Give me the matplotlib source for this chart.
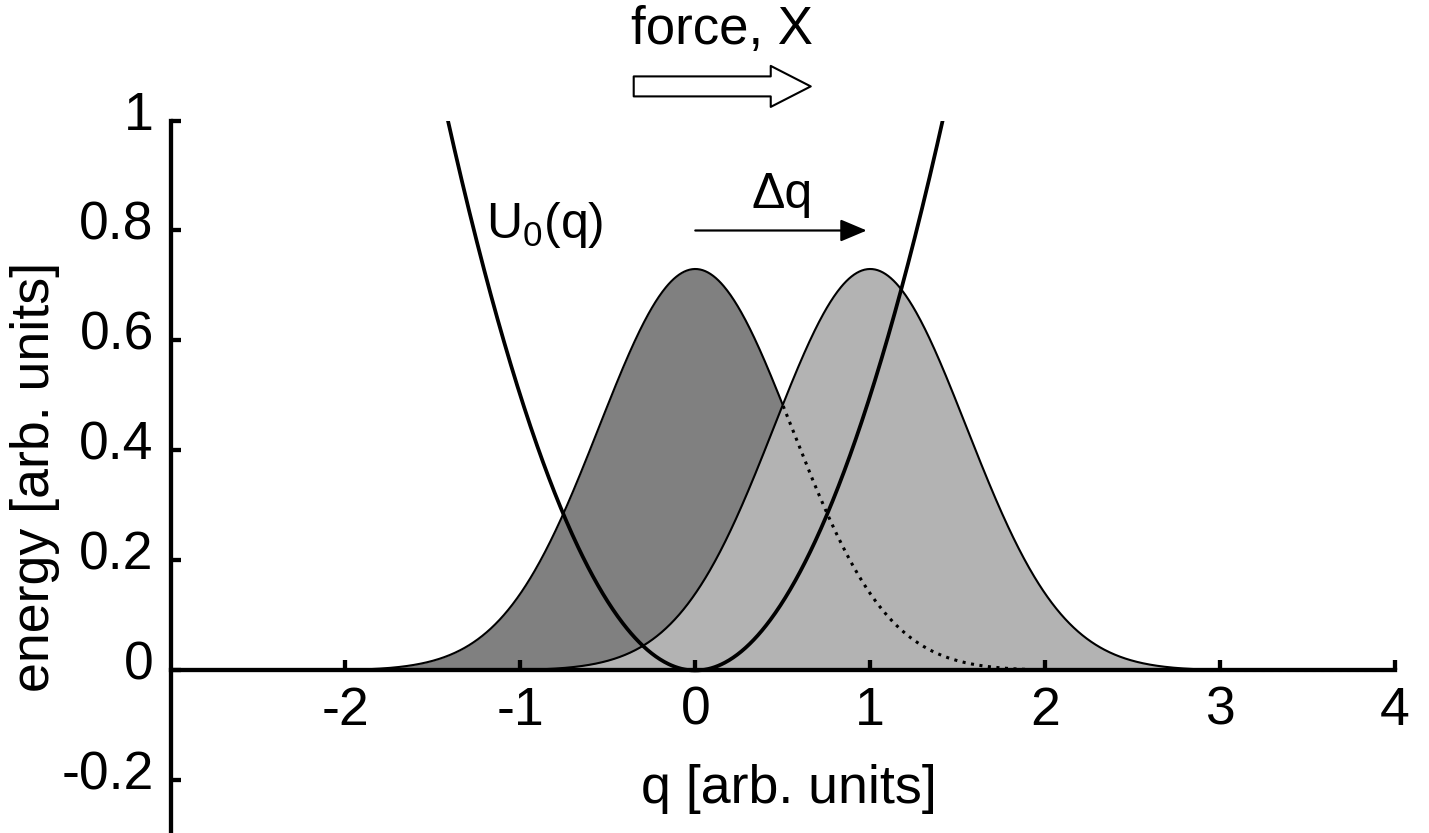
import numpy as np
import matplotlib
matplotlib.use("Agg")
import matplotlib.pyplot as plt
from matplotlib.transforms import ScaledTranslation

plt.rcParams["font.family"] = ["Liberation Sans", "DejaVu Sans"]
plt.rcParams["mathtext.fontset"] = "custom"
plt.rcParams["mathtext.rm"] = "Liberation Sans"
plt.rcParams["mathtext.it"] = "Liberation Sans:italic"
plt.rcParams["axes.unicode_minus"] = False

# --- values ---
x_ticks = [-2, -1, 0, 1, 2, 3, 4]
y_ticks = [-0.2, 0, 0.2, 0.4, 0.6, 0.8, 1]
y_tick_labels = ["-0.2", "0", "0.2", "0.4", "0.6", "0.8", "1"]

well_stiffness = 1.0          # U0(q) = k q^2 / 2
well_edge = 1.42              # parabola drawn up to |q| = well_edge
dist_centers = [0.0, 1.0]     # before / after the force shift
dist_peak = 0.73
dist_width = 0.55
dist_colors = ["#808080", "#b3b3b3"]
shift = dist_centers[1] - dist_centers[0]

q = np.linspace(-3, 4, 1400)
q_well = np.linspace(-well_edge, well_edge, 600)
U0 = 0.5 * well_stiffness * q_well ** 2
dists = [dist_peak * np.exp(-(q - c) ** 2 / (2 * dist_width ** 2)) for c in dist_centers]

fig = plt.figure(figsize=(14.29, 8.33), dpi=100)
ax = fig.add_axes([170.5 / 1429, 0.0, 1224.5 / 1429, 712.5 / 833])

# shaded distributions
ax.fill_between(q, 0, dists[0], color=dist_colors[0], lw=0, zorder=1)
ax.fill_between(q, 0, dists[1], color=dist_colors[1], lw=0, zorder=1.1)
ax.plot(q, dists[1], color="k", lw=1.5, zorder=2)
cross = 0.5 * (dist_centers[0] + dist_centers[1])
left = q <= cross
ax.plot(q[left], dists[0][left], color="k", lw=1.5, zorder=2)
ax.plot(q[~left], dists[0][~left], color="k", lw=2.2, dashes=(1.0, 1.8), zorder=2)

# potential well
ax.plot(q_well, U0, color="k", lw=2.7, zorder=3)

ax.set_xlim(-3, 4)
ax.set_ylim(-0.2955, 1.0)
for s in ["top", "right"]:
    ax.spines[s].set_visible(False)
ax.spines["bottom"].set_position(("data", 0))
for s in ["left", "bottom"]:
    ax.spines[s].set_linewidth(3.1)
    ax.spines[s].set_zorder(4)

ax.set_xticks(x_ticks)
ax.set_xticklabels([str(t) for t in x_ticks])
ax.set_yticks(y_ticks)
ax.set_yticklabels(y_tick_labels)
ax.tick_params(direction="in", length=7.2, width=3.1, labelsize=38.5)
ax.tick_params(axis="x", pad=11)
ax.tick_params(axis="y", pad=12)

# y tick labels sit a little above their ticks in the reference
up = ScaledTranslation(0, 10 / 100, fig.dpi_scale_trans)
for t in ax.yaxis.get_major_ticks():
    t.label1.set_transform(t.label1.get_transform() + up)

ax.set_xlabel("q [arb. units]", fontsize=38.7)
ax.xaxis.set_label_coords(0.505, 0.097)
ax.set_ylabel("energy [arb. units]", fontsize=38.7)
ax.yaxis.set_label_coords(-0.090, 0.5)

# annotations
ax.text(-0.862, 0.81, r"U$_0$(q)", fontsize=36, ha="center", va="center")
ax.text(0.494, 0.865, "\u0394q", fontsize=36, ha="center", va="center")
ax.annotate("", xy=(shift - 0.02, 0.8), xytext=(0, 0.8),
            arrowprops=dict(arrowstyle="-|>,head_length=0.9,head_width=0.38",
                            mutation_scale=18, color="k", lw=1.6,
                            shrinkA=0, shrinkB=0))

ax.text(0.15, 1.165, "force, X", fontsize=38, ha="center", va="center", clip_on=False)
ax.annotate("", xy=(0.66, 1.062), xytext=(-0.352, 1.062), annotation_clip=False,
            arrowprops=dict(arrowstyle="simple,head_length=0.4,head_width=0.41,tail_width=0.2",
                            mutation_scale=72, fc="white", ec="k", lw=1.5,
                            shrinkA=0, shrinkB=0))

fig.savefig("out.png", dpi=100)
